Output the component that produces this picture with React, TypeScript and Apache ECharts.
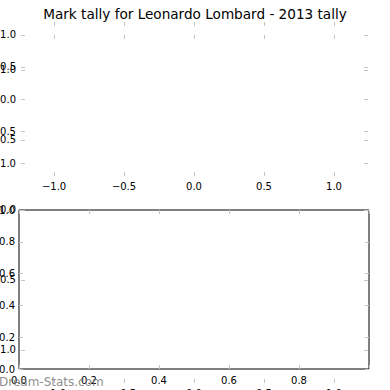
import React, { useEffect, useRef } from "react";
import * as echarts from "echarts";

const TITLE = "Mark tally for Leonardo Lombard - 2013 tally";
const WATERMARK = "Dream-Stats.com";
// pie axes (empty pie) tick values
const pieTicks = [-1, -0.5, 0, 0.5, 1];
// lower plain axes tick values
const unitTicks = [0, 0.2, 0.4, 0.6, 0.8, 1.0];
const unitXLabels = [0, 0.2, 0.4, 0.6, 0.8];
// empty data series
const pieSlices: number[] = [];
const tallyPoints: number[][] = [];

const FONT = "DejaVu Sans";
const TICK_COLOR = "#c4c4c4";

const fmt = (v: number) => (v < 0 ? "\u2212" : "") + Math.abs(v).toFixed(1);

function axis(opts: any) {
  const { position, gridIndex, min, max, labels, ticks, showLabels, margin } = opts;
  return {
    type: "value",
    gridIndex,
    position,
    min,
    max,
    splitLine: { show: false },
    axisLine: { show: false, onZero: false },
    axisTick: {
      show: true,
      inside: true,
      length: 4,
      customValues: ticks,
      lineStyle: { color: TICK_COLOR, width: 1 },
    },
    axisLabel: {
      show: showLabels,
      customValues: labels,
      margin,
      color: "#000",
      fontFamily: FONT,
      fontSize: 10,
      hideOverlap: false,
      formatter: (v: number) => fmt(v),
    },
  };
}

export default function App() {
  const ref = useRef<HTMLDivElement>(null);
  useEffect(() => {
    if (!ref.current) return;
    const chart = echarts.init(ref.current, undefined, { renderer: "svg" });
    const xA = { min: -1.236, max: 1.243 };
    const yA = { min: -1.203, max: 1.203 };
    const yB = { min: -1.236, max: 1.25 };
    chart.setOption({
      animation: false,
      backgroundColor: "#fff",
      title: {
        text: TITLE,
        left: "center",
        top: 2,
        textStyle: { fontFamily: FONT, fontSize: 13.6, fontWeight: "normal", color: "#000" },
      },
      grid: [
        { left: 21, top: 22, width: 347, height: 154, show: false, containLabel: false, outerBoundsMode: "none" },
        { left: 21, top: 35, width: 347, height: 348, show: false, containLabel: false, outerBoundsMode: "none" },
        { left: 19, top: 210, width: 350, height: 159, show: true, borderColor: "#000", borderWidth: 1, backgroundColor: "transparent", containLabel: false, outerBoundsMode: "none" },
      ],
      xAxis: [
        axis({ position: "bottom", gridIndex: 0, ...xA, labels: pieTicks, ticks: pieTicks, showLabels: true, margin: 5 }),
        axis({ position: "top", gridIndex: 0, ...xA, labels: pieTicks, ticks: pieTicks, showLabels: false, margin: 5 }),
        axis({ position: "bottom", gridIndex: 1, ...xA, labels: pieTicks, ticks: pieTicks, showLabels: true, margin: 5 }),
        axis({ position: "top", gridIndex: 1, ...xA, labels: pieTicks, ticks: pieTicks, showLabels: false, margin: 5 }),
        axis({ position: "bottom", gridIndex: 2, min: 0, max: 1, labels: unitXLabels, ticks: unitTicks, showLabels: true, margin: 6 }),
        axis({ position: "top", gridIndex: 2, min: 0, max: 1, labels: unitXLabels, ticks: unitTicks, showLabels: false, margin: 6 }),
      ],
      yAxis: [
        axis({ position: "left", gridIndex: 0, ...yA, labels: pieTicks, ticks: pieTicks, showLabels: true, margin: 5 }),
        axis({ position: "right", gridIndex: 0, ...yA, labels: pieTicks, ticks: pieTicks, showLabels: false, margin: 5 }),
        axis({ position: "left", gridIndex: 1, ...yB, labels: pieTicks, ticks: pieTicks, showLabels: true, margin: 5 }),
        axis({ position: "right", gridIndex: 1, ...yB, labels: pieTicks, ticks: pieTicks, showLabels: false, margin: 5 }),
        axis({ position: "left", gridIndex: 2, min: 0, max: 1, labels: unitTicks, ticks: unitTicks, showLabels: true, margin: 4 }),
        axis({ position: "right", gridIndex: 2, min: 0, max: 1, labels: unitTicks, ticks: unitTicks, showLabels: false, margin: 4 }),
      ],
      series: [
        { type: "scatter", xAxisIndex: 0, yAxisIndex: 0, data: pieSlices },
        { type: "scatter", xAxisIndex: 2, yAxisIndex: 2, data: pieSlices },
        { type: "scatter", xAxisIndex: 4, yAxisIndex: 4, data: tallyPoints },
      ],
      graphic: [
        {
          type: "text",
          x: -1,
          y: 382,
          z: 100,
          style: {
            text: WATERMARK,
            fontFamily: FONT,
            fontSize: 12,
            fill: "rgba(120,120,120,0.85)",
            verticalAlign: "middle",
            align: "left",
          },
        },
      ],
    });
    return () => chart.dispose();
  }, []);
  return (
    <div
      ref={ref}
      style={{ position: "fixed", left: 0, top: 0, width: 390, height: 390, background: "#fff" }}
    />
  );
}
